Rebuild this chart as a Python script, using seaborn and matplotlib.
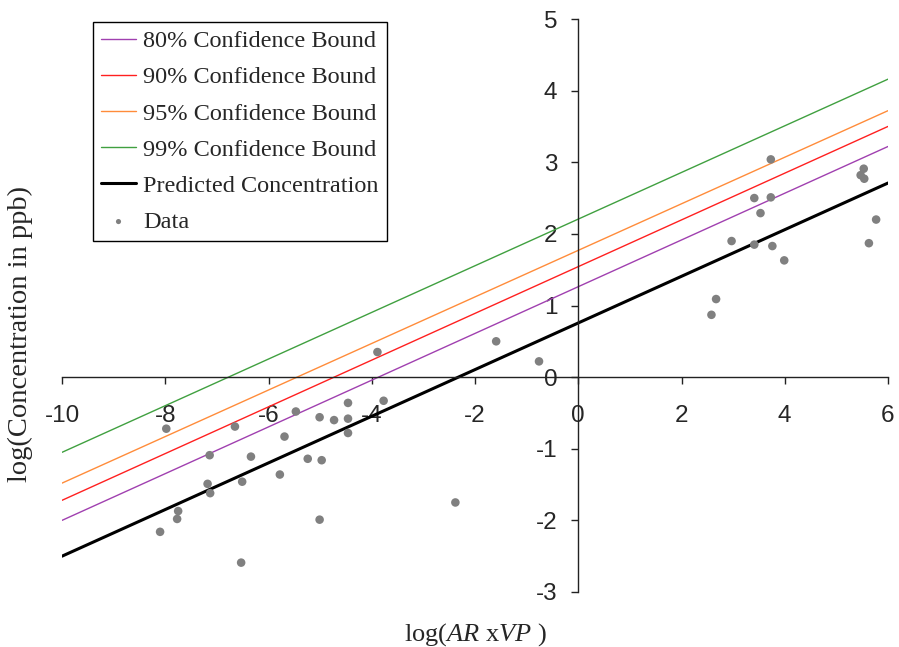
import numpy as np
import pandas as pd
import seaborn as sns
import matplotlib.pyplot as plt

# data
data_x = [-7.98, -6.65, -5.47, -5.69, -5.01, -4.73, -4.46, -4.46, -4.46, -3.89, -3.77,
          -7.14, -6.34, -5.24, -4.97, -5.78, -7.18, -7.13, -6.51, -7.75, -7.77, -8.10,
          -5.01, -6.53, -1.59, -0.76, -2.38,
          3.73, 3.41, 3.73, 3.53, 2.97, 3.41, 3.76, 3.99, 2.67, 2.58,
          5.53, 5.47, 5.54, 5.77, 5.63]
data_y = [-0.72, -0.69, -0.48, -0.83, -0.56, -0.60, -0.36, -0.58, -0.78, 0.35, -0.33,
          -1.09, -1.11, -1.14, -1.16, -1.36, -1.49, -1.62, -1.46, -1.87, -1.98, -2.16,
          -1.99, -2.59, 0.50, 0.22, -1.75,
          3.04, 2.50, 2.51, 2.29, 1.90, 1.85, 1.83, 1.63, 1.09, 0.87,
          2.91, 2.82, 2.77, 2.20, 1.87]

line_x = [-10, 6]
predicted = [-2.50, 2.71]
bound_80 = [-2.00, 3.22]
bound_90 = [-1.72, 3.50]
bound_95 = [-1.48, 3.72]
bound_99 = [-1.05, 4.16]

x_ticks = [-10, -8, -6, -4, -2, 0, 2, 4, 6]
y_ticks = [-3, -2, -1, 0, 1, 2, 3, 4, 5]

sns.set_style('white')
plt.rcParams['font.family'] = ['Liberation Serif', 'DejaVu Serif']
plt.rcParams['axes.unicode_minus'] = False
plt.rcParams['mathtext.fontset'] = 'custom'
plt.rcParams['mathtext.rm'] = 'Liberation Serif'
plt.rcParams['mathtext.it'] = 'Liberation Serif:italic'

fig = plt.figure(figsize=(8.99, 6.47), dpi=100)
ax = fig.add_axes([62 / 899, 1 - 592 / 647, 826 / 899, 573 / 647])

bounds = [('80% Confidence Bound', bound_80, '#a040b0'),
          ('90% Confidence Bound', bound_90, '#ff2020'),
          ('95% Confidence Bound', bound_95, '#ff8c3a'),
          ('99% Confidence Bound', bound_99, '#40a040')]
for label, vals, col in bounds:
    sns.lineplot(x=line_x, y=vals, color=col, linewidth=1.0, label=label, ax=ax)
sns.lineplot(x=line_x, y=predicted, color='black', linewidth=2.2,
             label='Predicted Concentration', ax=ax)
sns.scatterplot(x=data_x, y=data_y, color='#808080', s=38, edgecolor='none',
                label='Data', ax=ax, zorder=3)

ax.set_xlim(-10, 6)
ax.set_ylim(-3, 5)
ax.set_xticks(x_ticks)
ax.set_yticks(y_ticks)

# axes cross at the origin
ax.spines['left'].set_position(('data', 0))
ax.spines['bottom'].set_position(('data', 0))
ax.spines['top'].set_visible(False)
ax.spines['right'].set_visible(False)
for s in ['left', 'bottom']:
    ax.spines[s].set_color('#222222')
    ax.spines[s].set_linewidth(1.0)
ax.tick_params(axis='both', direction='out', length=5, width=1, color='#222222',
               labelsize=17.5, bottom=True, left=True)
ax.tick_params(axis='x', pad=15)
ax.tick_params(axis='y', pad=10)
for lab in ax.get_xticklabels() + ax.get_yticklabels():
    lab.set_fontfamily('Liberation Sans')

ax.set_xlabel(r'log($AR$ x$VP$ )', fontsize=19)
ax.xaxis.set_label_coords(0.5, -0.075)
ax.xaxis.label.set_va('center')
ax.set_ylabel('log(Concentration in ppb)', fontsize=20.5)
ax.yaxis.set_label_coords(-0.05, 0.45)
ax.yaxis.label.set_va('center')

leg = ax.legend(loc='upper left', bbox_to_anchor=(0.0375, 0.995), borderaxespad=0,
                fontsize=17.5, frameon=True, fancybox=False, framealpha=1,
                edgecolor='black', handlelength=1.4, handletextpad=0.3,
                labelspacing=0.58, borderpad=0.35, markerscale=0.6)
leg.get_frame().set_linewidth(1.0)

fig.savefig('out.png', dpi=100)
